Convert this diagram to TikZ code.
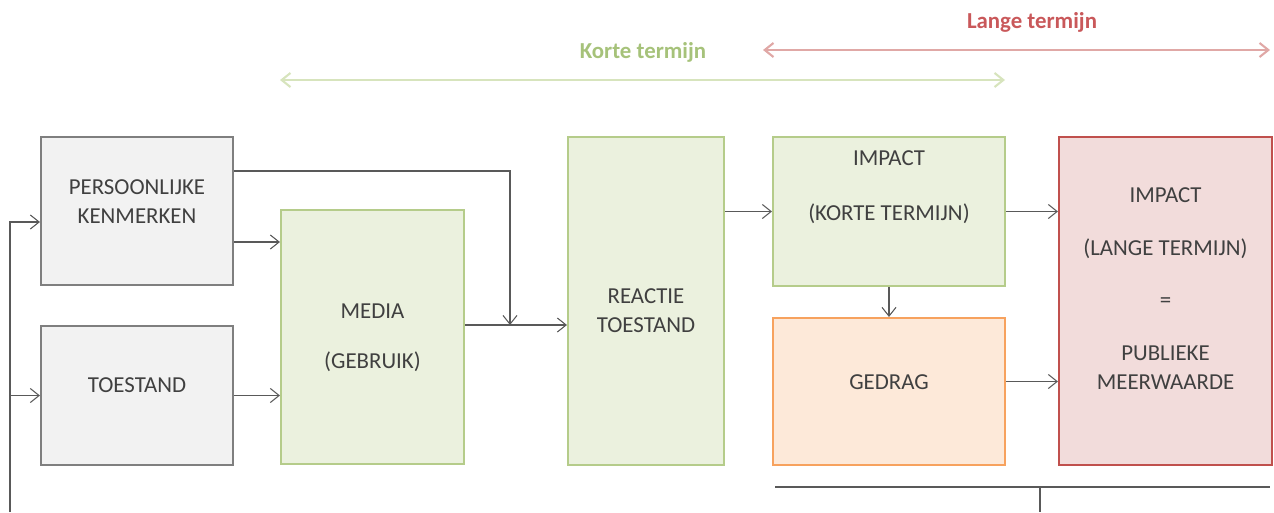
\documentclass[tikz,border=0pt]{standalone}
\usepackage{fontspec}
\setmainfont{Carlito}
\usetikzlibrary{arrows.meta}
\definecolor{txtgray}{HTML}{404040}
\definecolor{linegray}{HTML}{595959}
\definecolor{boxgray}{HTML}{7F7F7F}
\definecolor{fillgray}{HTML}{F2F2F2}
\definecolor{boxgreen}{HTML}{B5CC8A}
\definecolor{fillgreen}{HTML}{EBF1DE}
\definecolor{boxorange}{HTML}{F7A25E}
\definecolor{fillorange}{HTML}{FDE9D9}
\definecolor{boxred}{HTML}{C0504D}
\definecolor{fillred}{HTML}{F2DCDB}
\definecolor{arrgreen}{HTML}{D7E4BD}
\definecolor{txtgreen}{HTML}{A6C27A}
\definecolor{arrred}{HTML}{E0A8A6}
\definecolor{txtred}{HTML}{C9585A}
\newcommand{\boxlines}[2]{\raisebox{#1}[0pt][0pt]{\begin{tabular}{@{}c@{}}#2\end{tabular}}}

\begin{document}
\begin{tikzpicture}[font=\fontsize{13}{16.5}\selectfont]
    \tikzstyle{box}=[rectangle,draw,line width=1.2pt,text=txtgray,inner sep=0pt]
    \tikzstyle{grey}=[box,draw=boxgray,fill=fillgray]
    \tikzstyle{green}=[box,draw=boxgreen,fill=fillgreen]
    \tikzstyle{conn}=[draw=linegray,line width=0.6pt,-{Straight Barb[length=5pt,width=8pt]}]
    \tikzstyle{span}=[line width=1.2pt,{Straight Barb[length=5pt,width=8pt]}-{Straight Barb[length=5pt,width=8pt]}]
    \useasboundingbox (0,0) rectangle (25.48,-10.24);
    \node [grey,minimum width=3.84cm,minimum height=2.96cm] (pers) at (2.74,-4.22) {\boxlines{0.05cm}{PERSOONLIJKE\\KENMERKEN}};
    \node [grey,minimum width=3.84cm,minimum height=2.78cm] (toest) at (2.74,-7.91) {\boxlines{0.08cm}{TOESTAND}};
    \node [green,minimum width=3.66cm,minimum height=5.08cm] (media) at (7.45,-6.74) {\boxlines{-0.11cm}{MEDIA\\[0.42cm](GEBRUIK)}};
    \node [green,minimum width=3.12cm,minimum height=6.56cm] (reactie) at (12.92,-6.02) {\boxlines{-0.33cm}{REACTIE\\TOESTAND}};
    \node [green,minimum width=4.64cm,minimum height=2.98cm] (impkt) at (17.78,-4.23) {\boxlines{0.39cm}{IMPACT\\[0.52cm](KORTE TERMIJN)}};
    \node [box,draw=boxorange,fill=fillorange,minimum width=4.64cm,minimum height=2.94cm] (gedrag) at (17.78,-7.83) {\boxlines{0.06cm}{GEDRAG}};
    \node [box,draw=boxred,fill=fillred,minimum width=4.26cm,minimum height=6.56cm] (implt) at (23.31,-6.02) {\boxlines{0.11cm}{IMPACT\\[0.47cm](LANGE TERMIJN)\\[0.47cm]=\\[0.47cm]PUBLIEKE\\MEERWAARDE}};

    \coordinate (p1) at ([yshift=0.8cm]pers.east);
    \coordinate (p2) at ([yshift=-0.62cm]pers.east);
    \coordinate (p3) at ([yshift=-0.22cm]pers.west);
    \coordinate (mr) at ([yshift=0.24cm]media.east);
    \coordinate (join) at (10.2,-6.5);
    \coordinate (g1) at ([yshift=0.2cm]gedrag.east);
    \coordinate (fbL) at (0.2,-10.24);
    \coordinate (fbR) at (20.8,-10.24);
    \coordinate (fb1) at (15.5,-9.74);
    \coordinate (fb2) at (25.4,-9.74);

    \draw [conn] (p2) -- (p2 -| media.west);
    \draw [conn] (toest.east) -- (toest.east -| media.west);
    \draw [conn] (mr) -- (mr -| reactie.west);
    \draw [conn] (p1) -| (join);
    \draw [conn] (reactie.east |- impkt.west) -- (impkt.west);
    \draw [conn] (impkt.east) -- (impkt.east -| implt.west);
    \draw [conn] (impkt.south) -- (gedrag.north);
    \draw [conn] (g1) -- (g1 -| implt.west);
    \draw [conn] (fbL) |- (p3);
    \draw [conn] (fbL |- toest.west) -- (toest.west);
    \draw [draw=linegray,line width=0.8pt] (fb1) -- (fb2);
    \draw [draw=linegray,line width=0.8pt] (fbR |- fb1) -- (fbR);

    \coordinate (kt1) at (5.6,-1.6);
    \coordinate (kt2) at (20.1,-1.6);
    \coordinate (lt1) at (15.26,-1.0);
    \coordinate (lt2) at (25.4,-1.0);
    \draw [span,draw=arrgreen] (kt1) -- (kt2);
    \draw [span,draw=arrred] (lt1) -- (lt2);
    \node [text=txtgreen,font=\fontsize{13}{16}\selectfont\bfseries] (kort) at (12.86,-1.04) {Korte termijn};
    \node [text=txtred,font=\fontsize{13}{16}\selectfont\bfseries] (lang) at (20.64,-0.44) {Lange termijn};
  \end{tikzpicture}
\end{document}
